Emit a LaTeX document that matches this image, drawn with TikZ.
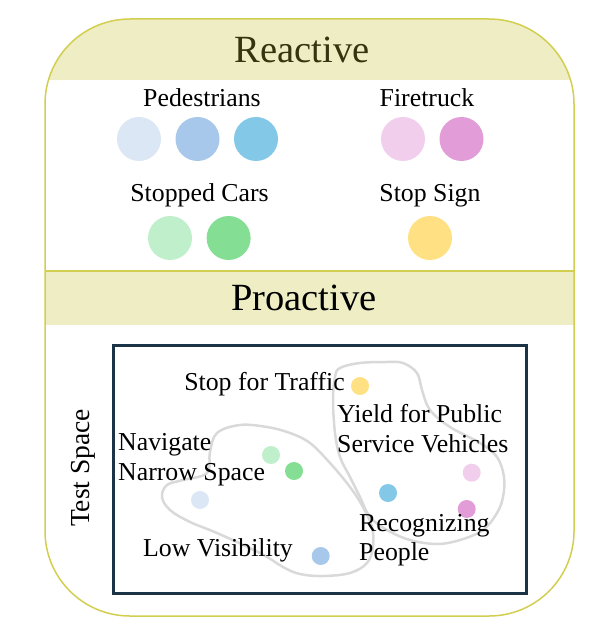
\documentclass[tikz,border=0pt]{standalone}
\usepackage{fontspec}
\setmainfont{Liberation Serif}
\definecolor{bandfill}{HTML}{EEEDC3}
\definecolor{rimline}{HTML}{D2CE50}
\definecolor{boxline}{HTML}{1A3346}
\definecolor{blobline}{HTML}{D9D9D9}
\definecolor{reacttext}{HTML}{35340F}
\definecolor{pedA}{HTML}{DCE7F5}
\definecolor{pedB}{HTML}{A7C8EA}
\definecolor{pedC}{HTML}{84C8E8}
\definecolor{fireA}{HTML}{F0CEEC}
\definecolor{fireB}{HTML}{E29DD9}
\definecolor{carA}{HTML}{BFEFCB}
\definecolor{carB}{HTML}{84DF94}
\definecolor{signA}{HTML}{FFE083}

\begin{document}
\begin{tikzpicture}[x=1pt,y=-1pt,
	lbl/.style={font=\fontsize{25.8}{30}\selectfont, inner sep=0pt},
	head/.style={font=\fontsize{38.5}{46}\selectfont, inner sep=0pt}]
			%%%%% START %%%%%
			
			\useasboundingbox (0,0) rectangle (591,620);
			
			\begin{scope}
				\clip[rounded corners=85pt] (45,19) rectangle (574,616);
				\fill[bandfill] (45,19) rectangle (574,80);
				\fill[bandfill] (45,271) rectangle (574,325);
			\end{scope}
			\draw[line width=1.5pt, rimline] (45,271) -- (574,271);
			\draw[line width=1.5pt, rimline, rounded corners=85pt] (45,19) rectangle (574,616);
			
			\node[head, anchor=base, text=reacttext] (reactive) at (302,63) {Reactive};
			\node[head, anchor=base] (proactive) at (304,310) {Proactive};
			
			\node[lbl, anchor=base] (peds) at (202,107) {Pedestrians};
			\fill[pedA] (139,139) circle (22);
			\fill[pedB] (197.5,139) circle (22);
			\fill[pedC] (256,139) circle (22);
			
			\node[lbl, anchor=base] (fire) at (427,107) {Firetruck};
			\fill[fireA] (403,139) circle (22);
			\fill[fireB] (461.5,139) circle (22);
			
			\node[lbl, anchor=base] (cars) at (199.5,201) {Stopped Cars};
			\fill[carA] (170,238) circle (22);
			\fill[carB] (228.6,238) circle (22);
			
			\node[lbl, anchor=base] (sign) at (430,201) {Stop Sign};
			\fill[signA] (430,238) circle (22);
			
			\draw[line width=3pt, boxline] (113.6,345) rectangle (526,593);
			\node[font=\fontsize{27.5}{32}\selectfont, inner sep=0pt, rotate=90, anchor=base] (tspace) at (89,468) {Test Space};
			
			\draw[blobline, line width=2.5pt] plot[smooth cycle, tension=0.6] coordinates {
				(210,452) (217,433) (240,425) (267,427) (290,433) (310,443) (330,463)
				(350,487) (363,507) (372,527) (373,547) (367,563) (350,573) (323,576)
				(300,574) (283,567) (260,553) (217,533) (190,522) (170,510) (162,497)
				(167,485) (183,480) (207,473)};
			\draw[blobline, line width=2.5pt] plot[smooth cycle, tension=0.6] coordinates {
				(340,368) (360,363) (387,362) (403,363) (417,373) (422,390) (430,410)
				(450,427) (480,443) (497,457) (504,477) (503,497) (497,513) (483,530)
				(460,540) (437,544) (410,540) (387,530) (370,517) (360,497) (350,477)
				(340,457) (335,433) (333,400) (335,377)};
			
			\fill[signA] (360,386) circle (9);
			\fill[carA] (271,455) circle (9);
			\fill[carB] (294,471) circle (9);
			\fill[pedA] (200,500) circle (9);
			\fill[pedB] (320.7,556) circle (9);
			\fill[pedC] (388,493) circle (9);
			\fill[fireA] (471.7,472.7) circle (9);
			\fill[fireB] (466.7,509) circle (9);
			
			\node[lbl, anchor=base east] (traffic) at (345,390) {Stop for Traffic};
			\node[lbl, anchor=base west] (yieldA) at (337,422) {Yield for Public};
			\node[lbl, anchor=base west] (yieldB) at (337,452) {Service Vehicles};
			\node[lbl, anchor=base west] (narrowA) at (118,450) {Navigate};
			\node[lbl, anchor=base west] (narrowB) at (118,480) {Narrow Space};
			\node[lbl, anchor=base west] (peopleA) at (359,531) {Recognizing};
			\node[lbl, anchor=base west] (peopleB) at (359,560) {People};
			\node[lbl, anchor=base west] (lowvis) at (143,556) {Low Visibility};
			
			%%%%% END %%%%%
\end{tikzpicture}
\end{document}
